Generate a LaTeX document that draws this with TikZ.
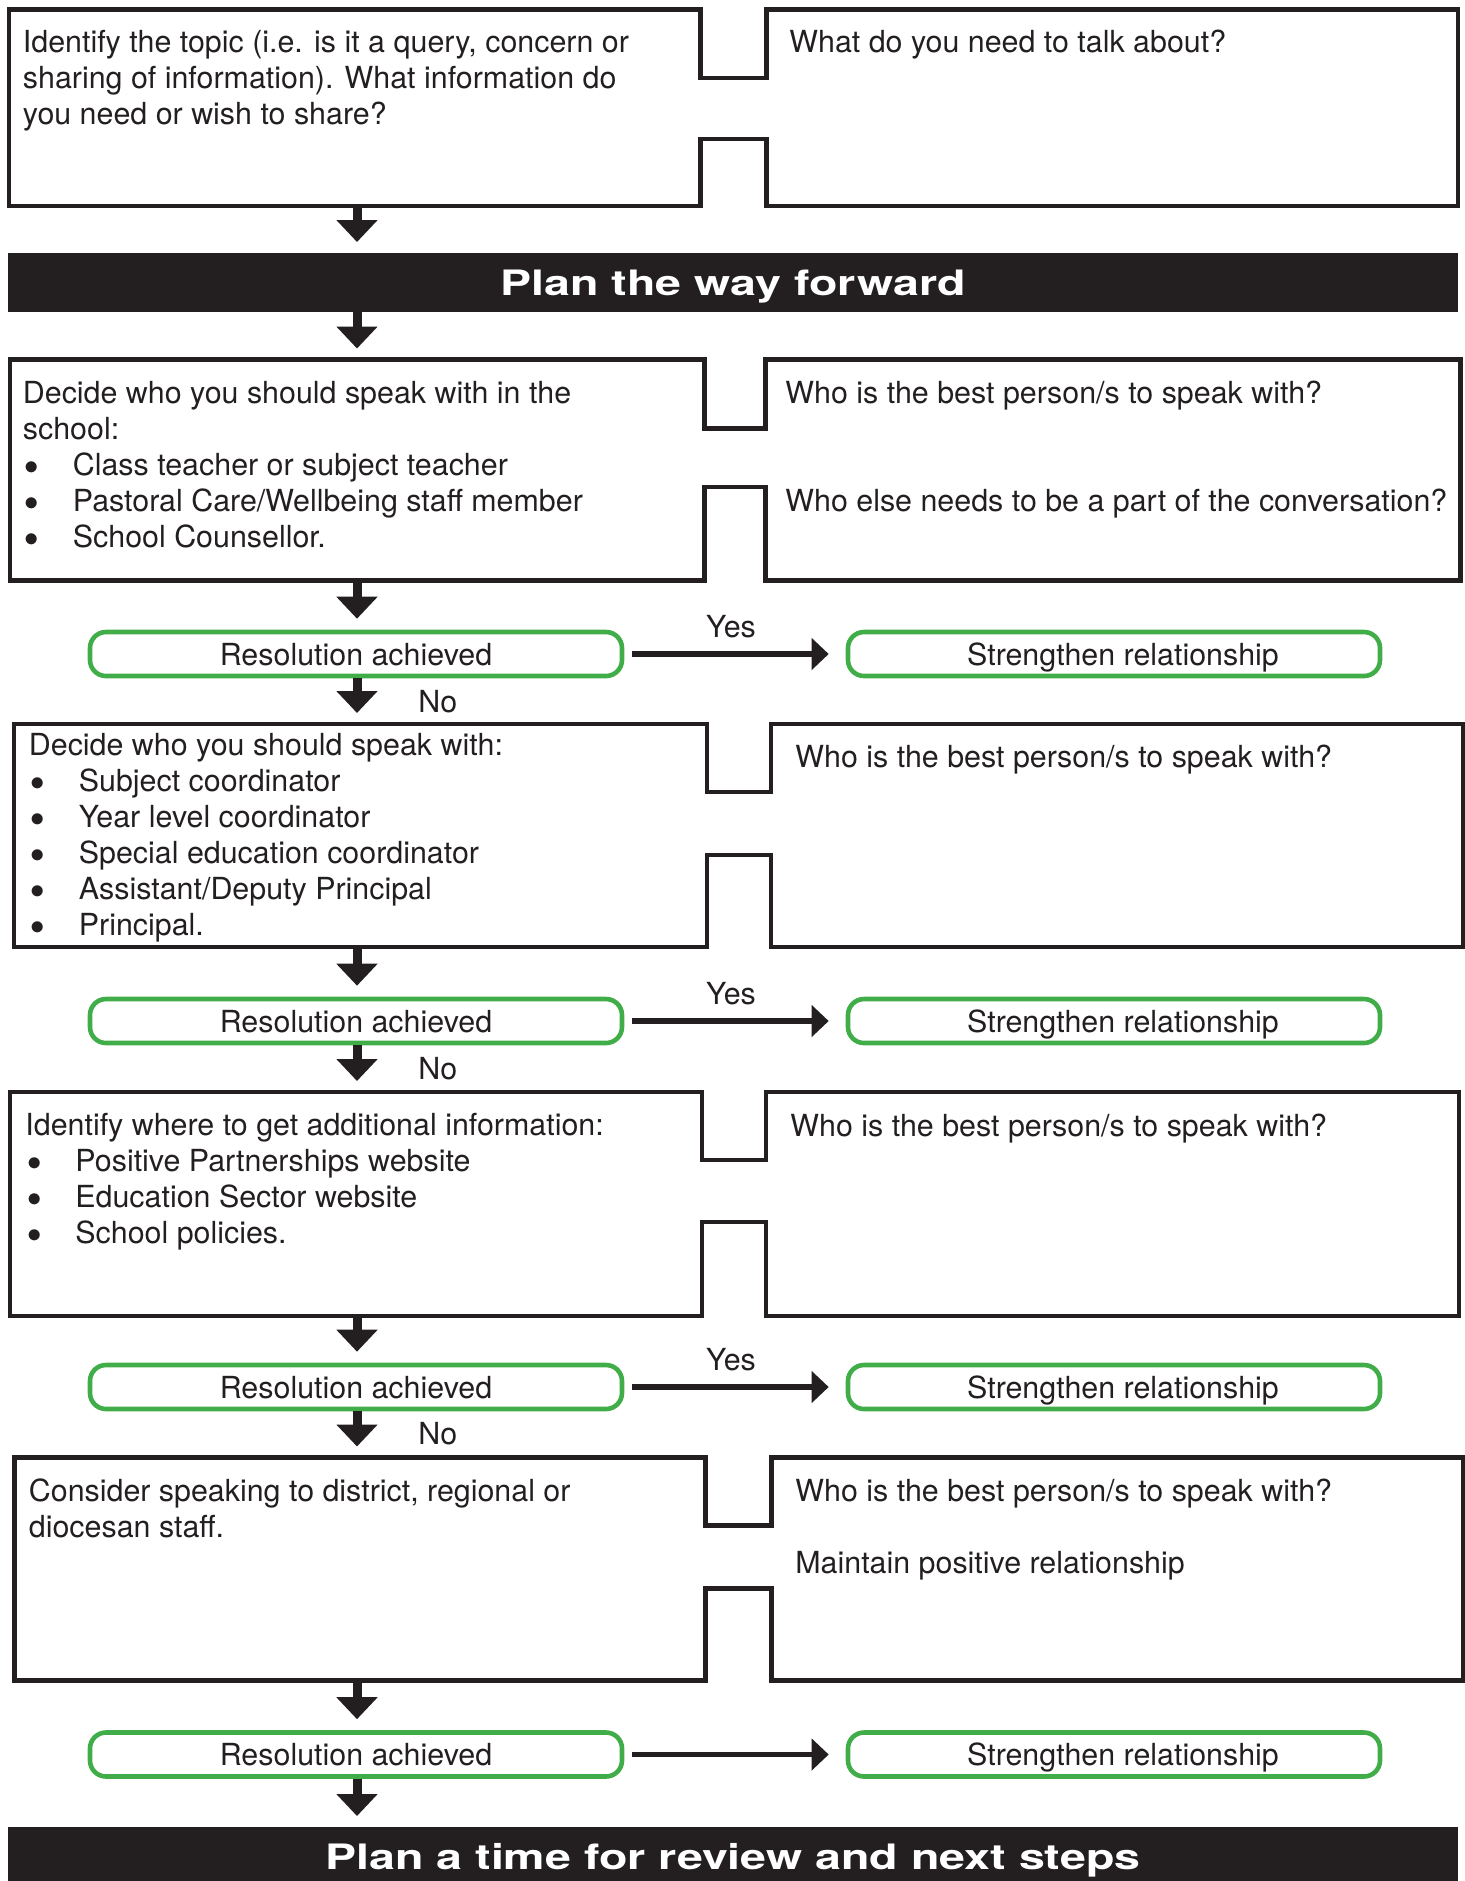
\documentclass[tikz,border=0pt]{standalone}
\usepackage{fontspec}
\setmainfont{TeX Gyre Heros}
\newfontfamily\barfont{TeX Gyre Heros}[FakeStretch=1.33]
\usetikzlibrary{arrows.meta,positioning}

\definecolor{inkblack}{HTML}{231F20}
\definecolor{okgreen}{HTML}{40AD49}

\newcommand{\itemdot}{\makebox[25pt][l]{\hspace{0.8pt}\raisebox{0.4pt}{\fontsize{13.5}{18}\selectfont$\bullet$}}}

\begin{document}
\begin{tikzpicture}[
  x=0.5pt,
  y=-0.5pt,
  line join=miter,
  bodytext/.style={font=\fontsize{15.2}{18}\selectfont,text=inkblack},
  infotext/.style={bodytext,anchor=north west,inner sep=0pt,align=left},
  puzzlebox/.style={draw=inkblack,line width=2.4pt},
  outcome/.style={bodytext,draw=okgreen,line width=2.3pt,rounded corners=8pt,
    minimum width=266pt,minimum height=22pt,inner sep=0pt,
    text height=11.4pt,text depth=0pt},
  headbar/.style={fill=inkblack,text=white,minimum width=725pt,minimum height=29.5pt,
    inner sep=0pt,outer sep=0pt,font=\barfont\bfseries\fontsize{17.5}{20}\selectfont,
    text height=12.6pt,text depth=0pt},
  downarrow/.style={inkblack,line width=4.5pt,-{Triangle[width=20pt,length=11pt]},
    shorten >=5.5pt},
  yesarrow/.style={inkblack,line width=2.75pt,-{Triangle[width=15.5pt,length=8.5pt]},
    shorten <=4pt,shorten >=8.5pt},
  answer/.style={bodytext,inner sep=0pt}
]
\useasboundingbox (0,0) rectangle (1465,1881);

% joined question boxes: left, right, top, bottom, notch sides, notch depths
\foreach \n/\xl/\xr/\yt/\yb/\nl/\nr/\yu/\yv in {
  1/9/1458/9.5/206/700.5/766.5/78/139,
  2/10/1460.5/359.5/580.5/704.5/765.5/428.5/487,
  3/14/1463/724/947/707/771/792/855,
  4/10/1459/1092/1316/702/766/1160/1222,
  5/14.5/1463/1457.5/1680.5/705.5/771.5/1525.5/1588.5}
{
  \draw[puzzlebox] (\nl,\yu) -- (\nl,\yt) -- (\xl,\yt) -- (\xl,\yb) -- (\nl,\yb)
    -- (\nl,\yv) -- (\nr,\yv) -- (\nr,\yb) -- (\xr,\yb) -- (\xr,\yt)
    -- (\nr,\yt) -- (\nr,\yu) -- cycle;
  \coordinate (top\n) at (357,\yt);
  \coordinate (bot\n) at (357,\yb);
}

% texts in the boxes
\node[infotext] (topic) at (22.5,26.8)
  {\strut Identify the topic (i.e. is it a query, concern or\\
   sharing of information). What information do\\
   you need or wish to share?};
\node[infotext] (talk) at (789,26.8) {\strut What do you need to talk about?};

\node[infotext] (school) at (22.5,377.8)
  {\strut Decide who you should speak with in the\\
   school:\\
   \itemdot Class teacher or subject teacher\\
   \itemdot Pastoral Care/Wellbeing staff member\\
   \itemdot School Counsellor.};
\node[infotext] (best2) at (785,377.8) {\strut Who is the best person/s to speak with?};
\node[infotext] (else2) at (785,485.8) {\strut Who else needs to be a part of the conversation?};

\node[infotext] (staff) at (28.5,729.8)
  {\strut Decide who you should speak with:\\
   \itemdot Subject coordinator\\
   \itemdot Year level coordinator\\
   \itemdot Special education coordinator\\
   \itemdot Assistant/Deputy Principal\\
   \itemdot Principal.};
\node[infotext] (best3) at (795,741.8) {\strut Who is the best person/s to speak with?};

\node[infotext] (info) at (25,1109.8)
  {\strut Identify where to get additional information:\\
   \itemdot Positive Partnerships website\\
   \itemdot Education Sector website\\
   \itemdot School policies.};
\node[infotext] (best4) at (790,1110.8) {\strut Who is the best person/s to speak with?};

\node[infotext] (district) at (28.5,1475.8)
  {\strut Consider speaking to district, regional or\\
   diocesan staff.};
\node[infotext] (best5) at (795,1475.8) {\strut Who is the best person/s to speak with?};
\node[infotext] (maintain) at (795,1547.8) {\strut Maintain positive relationship};

% bars
\node[headbar] (plan) at (733,282.5) {Plan the way forward};
\node[headbar] (review) at (733,1856.5) {Plan a time for review and next steps};

% outcomes
\foreach \n/\yc in {1/654,2/1021,3/1387,4/1754.5}
{
  \node[outcome] (res\n) at (356,\yc) {Resolution achieved};
  \node[outcome] (str\n) at (1114,\yc) {\hspace*{9pt}Strengthen relationship};
}

\node[answer,anchor=base west] (no1) at (418,712) {No};
\node[answer,anchor=base west] (no2) at (418,1079) {No};
\node[answer,anchor=base west] (no3) at (418,1444) {No};

% flow
\draw[downarrow] (bot1) -- (bot1 |- plan.north);
\draw[downarrow] (plan.south -| top2) -- (top2);
\draw[downarrow] (bot2) -- (bot2 |- res1.north);
\draw[downarrow] (res1.south -| top3) -- (top3);
\draw[downarrow] (bot3) -- (bot3 |- res2.north);
\draw[downarrow] (res2.south -| top4) -- (top4);
\draw[downarrow] (bot4) -- (bot4 |- res3.north);
\draw[downarrow] (res3.south -| top5) -- (top5);
\draw[downarrow] (bot5) -- (bot5 |- res4.north);
\draw[downarrow] (res4.south -| bot5) -- (bot5 |- review.north);

\draw[yesarrow] (res1) -- (str1) node[midway,answer,anchor=base,xshift=-2pt,yshift=8.5pt] {Yes};
\draw[yesarrow] (res2) -- (str2) node[midway,answer,anchor=base,xshift=-2pt,yshift=8.5pt] {Yes};
\draw[yesarrow] (res3) -- (str3) node[midway,answer,anchor=base,xshift=-2pt,yshift=8.5pt] {Yes};
\draw[yesarrow] (res4) -- (str4);
\end{tikzpicture}
\end{document}
